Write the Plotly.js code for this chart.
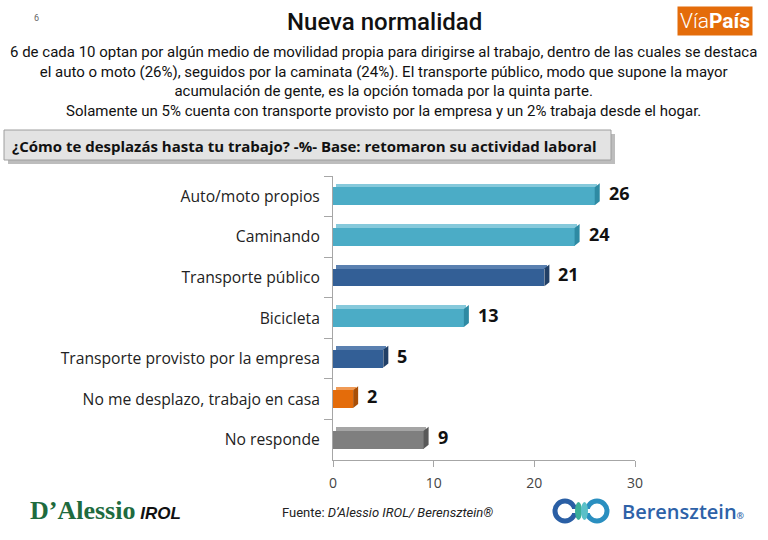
<!DOCTYPE html>
<html><head><meta charset="utf-8">
<script src="https://cdn.plot.ly/plotly-3.0.1.min.js"></script>
<style>html,body{margin:0;padding:0;background:#fff;}#chart{width:768px;height:540px;}</style>
</head><body><div id="chart"></div>
<script>
const categories = ["Auto/moto propios","Caminando","Transporte público","Bicicleta","Transporte provisto por la empresa","No me desplazo, trabajo en casa","No responde"];
const values = [26,24,21,13,5,2,9];
const frontColors = ["#4BACC6","#4BACC6","#335F96","#4BACC6","#335F96","#E46C0A","#7F7F7F"];
const topColors   = ["#86C9DB","#86C9DB","#5A80B0","#86C9DB","#5A80B0","#F09A55","#A5A5A5"];
const sideColors  = ["#2E8AA3","#2E8AA3","#213F66","#2E8AA3","#213F66","#A84F07","#595959"];
const xTicks = [0,10,20,30];

const L=333, R=133, Tm=176, B=80, PW=768-L-R, PH=540-Tm-B;
const catPx = PH/categories.length;

const W = 0.44, T = 0.09;
const front = {type:'bar', orientation:'h', y:categories, x:values, width:W, offset:-W/2,
  marker:{color:frontColors}, hoverinfo:'skip', showlegend:false};
const topFace = {type:'bar', orientation:'h', y:categories, x:values, base:0.25, width:T, offset:-W/2-T,
  marker:{color:topColors}, hoverinfo:'skip', showlegend:false};

const shapes = [];
const hpx = W*catPx/2;
categories.forEach((c,i)=>{
  shapes.push({type:'path', xref:'x', yref:'y', xsizemode:'pixel', ysizemode:'pixel',
    xanchor: values[i], yanchor: c,
    path:`M0,${-hpx} L5,${-hpx+4} L5,${hpx+4} L0,${hpx} Z`,
    fillcolor: sideColors[i], line:{width:0}, layer:'above'});
});

const annotations = categories.map((c,i)=>({
  x: values[i], y: c, xref:'x', yref:'y', text: String(values[i]), showarrow:false,
  xanchor:'left', xshift: 12, yshift: 3, font:{family:'Open Sans, Noto Sans, sans-serif', size:18, color:'#111', weight:700}
}));

const px = x => (x-L)/PW;
const py = y => 1-(y-Tm)/PH;
function txt(x,y,text,opts){ return Object.assign({xref:'paper',yref:'paper',x:px(x),y:py(y),text:text,showarrow:false,xanchor:'center',yanchor:'middle'}, opts); }

annotations.push(
  txt(36,18,'6',{font:{family:'Roboto, sans-serif',size:9,color:'#666'}}),
  txt(384,22,'Nueva normalidad',{font:{family:'Roboto, sans-serif',size:24,color:'#111',weight:500}}),
  txt(383,81,'6 de cada 10 optan por algún medio de movilidad propia para dirigirse al trabajo, dentro de las cuales se destaca<br>el auto o moto (26%), seguidos por la caminata (24%). El transporte público, modo que supone la mayor<br>acumulación de gente, es la opción tomada por la quinta parte.<br>Solamente un 5% cuenta con transporte provisto por la empresa y un 2% trabaja desde el hogar.',
    {font:{family:'Roboto, sans-serif',size:15,color:'#111'}, align:'center'}),
  txt(715,21,'<span style="font-weight:300">Vía</span><b>País</b>',{font:{family:'Roboto, sans-serif',size:21,color:'#fff'}, bgcolor:'#E46C0A', borderpad:2}),
  txt(10,146,'<b>¿Cómo te desplazás hasta tu trabajo? -%- Base: retomaron su actividad laboral</b>',
    {xanchor:'left', font:{family:'Open Sans, sans-serif',size:15,color:'#111'}}),
  txt(105,510,'<span style="font-family:Liberation Serif;color:#1E6B3E;font-size:26px"><b>D’Alessio</b></span> <i><b>IROL</b></i>',
    {font:{family:'Liberation Sans, sans-serif',size:17,color:'#111'}}),
  txt(387,512,'Fuente: <i>D’Alessio IROL/ Berensztein®</i>',{font:{family:'Roboto, sans-serif',size:13,color:'#222'}}),
  txt(620,511,'Berensztein<span style="font-size:9px">®</span>',{xanchor:'left', font:{family:'Open Sans, sans-serif',size:20,color:'#2E62A8', weight:600}})
);

const pshapes = [
  {type:'rect', xref:'paper', yref:'paper', x0:px(8), x1:px(615), y0:py(164), y1:py(134), fillcolor:'#BDBDBD', line:{width:0}, layer:'below'},
  {type:'rect', xref:'paper', yref:'paper', x0:px(4), x1:px(611), y0:py(160), y1:py(130), fillcolor:'#E3E3E3', line:{color:'#9E9E9E',width:1}, layer:'below'},
  {type:'circle', xref:'paper', yref:'paper', x0:px(555), x1:px(575), y0:py(521), y1:py(501), fillcolor:'rgba(0,0,0,0)', line:{color:'#2A5FA5',width:5}},
  {type:'circle', xref:'paper', yref:'paper', x0:px(587), x1:px(607), y0:py(521), y1:py(501), fillcolor:'rgba(0,0,0,0)', line:{color:'#2A8FC0',width:5}},
  {type:'rect', xref:'paper', yref:'paper', x0:px(568), x1:px(594), y0:py(509), y1:py(513), fillcolor:'#fff', line:{width:0}},
  {type:'circle', xref:'paper', yref:'paper', x0:px(575), x1:px(582), y0:py(520), y1:py(502), fillcolor:'#3BAF9A', line:{width:0}},
  {type:'circle', xref:'paper', yref:'paper', x0:px(581), x1:px(588), y0:py(520), y1:py(502), fillcolor:'#5BC0C8', line:{width:0}}
];

const layout = {
  width:768, height:540, margin:{l:L, r:R, t:Tm, b:B}, paper_bgcolor:'#fff', plot_bgcolor:'#fff',
  barmode:'overlay', bargap:0,
  xaxis:{range:[0,30], tickvals:xTicks, ticktext:xTicks.map(String), showgrid:false, zeroline:false,
    showline:true, linecolor:'#A6A6A6', ticks:'outside', ticklen:6, tickcolor:'#A6A6A6', ticklabelstandoff:4,
    tickfont:{family:'Open Sans, sans-serif', size:14, color:'#444'}},
  yaxis:{type:'category', categoryorder:'array', categoryarray:categories, autorange:'reversed', showgrid:false,
    showline:true, linecolor:'#A6A6A6', ticks:'outside', ticklen:8, tickcolor:'#A6A6A6', tickson:'boundaries',
    ticklabelstandoff:9,
    tickfont:{family:'Open Sans, sans-serif', size:15.7, color:'#222'}},
  shapes: shapes.concat(pshapes), annotations: annotations
};
Plotly.newPlot('chart',[front, topFace],layout,{staticPlot:true, displayModeBar:false});
</script></body></html>
